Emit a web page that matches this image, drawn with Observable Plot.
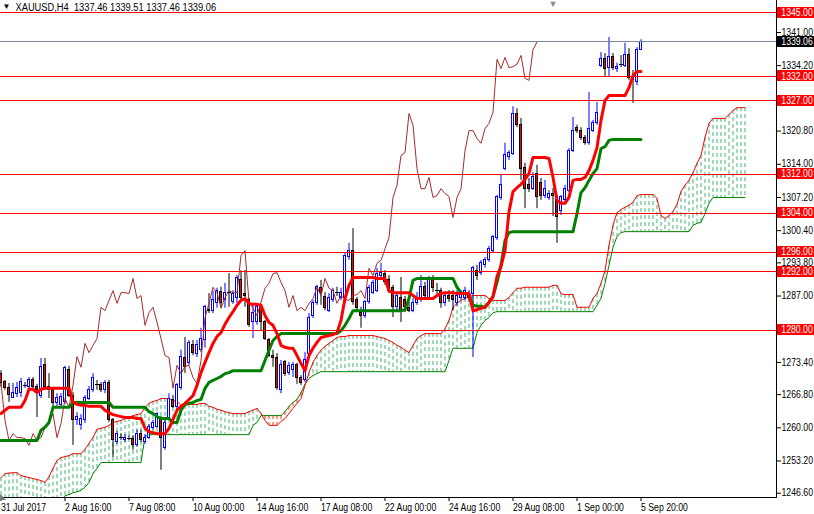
<!DOCTYPE html>
<html><head><meta charset="utf-8">
<script src="https://cdn.jsdelivr.net/npm/d3@7"></script>
<script src="https://cdn.jsdelivr.net/npm/@observablehq/plot@0.6"></script>
<style>
html,body{margin:0;padding:0;background:#fff;}
svg{display:block;}
</style></head><body><div id="chart"></div>
<script>
// ---- Data (XAUUSD H4, bars 0..160; cloud projected 26 bars ahead) ----
const opens = [1271.1,1269.3,1268.1,1266.2,1267.0,1267.2,1268.7,1268.3,1269.7,1268.3,
1266.6,1272.8,1268.3,1267.7,1265.0,1264.6,1265.2,1271.8,1266.6,1261.5,
1260.5,1261.5,1266.0,1267.7,1268.9,1268.7,1267.7,1269.1,1261.5,1257.0,
1258.0,1257.4,1257.8,1257.8,1256.4,1258.8,1257.0,1258.0,1259.9,1260.1,
1261.9,1255.8,1262.1,1265.6,1264.2,1268.1,1274.4,1273.2,1276.9,1275.2,
1275.9,1277.9,1284.2,1284.0,1285.5,1287.9,1286.1,1287.7,1285.7,1286.7,
1290.2,1287.5,1286.1,1281.6,1281.6,1284.7,1281.6,1277.9,1274.8,1274.4,
1267.7,1273.4,1271.3,1271.8,1272.8,1270.3,1269.7,1275.2,1283.0,1285.5,
1288.6,1286.9,1284.0,1286.1,1287.7,1286.7,1286.7,1294.9,1296.3,1286.1,
1283.6,1283.0,1285.7,1287.7,1288.1,1291.2,1291.6,1290.2,1288.6,1284.7,
1286.5,1286.1,1284.5,1284.0,1285.5,1286.5,1288.8,1286.7,1290.6,1288.1,
1288.1,1285.5,1287.1,1287.1,1285.5,1286.5,1286.5,1287.5,1287.5,1292.2,
1291.8,1293.3,1294.3,1296.3,1298.8,1307.0,1313.1,1315.4,1316.2,1324.4,
1322.0,1313.3,1309.7,1309.0,1312.1,1310.1,1307.6,1307.0,1308.0,1306.6,
1304.5,1306.6,1308.6,1316.8,1321.5,1320.9,1319.3,1318.3,1320.9,1322.4,
1334.2,1335.5,1333.8,1335.9,1333.6,1334.5,1334.2,1336.3,1331.6,1330.8,
1337.46];
const highs = [1271.7,1269.7,1269.1,1269.1,1269.3,1270.1,1269.3,1270.3,1270.3,1268.9,
1274.2,1274.2,1271.1,1268.3,1267.0,1267.0,1272.6,1272.6,1267.2,1263.1,
1262.7,1266.6,1268.5,1271.1,1269.7,1269.3,1269.7,1269.7,1261.9,1259.2,
1258.8,1258.6,1258.4,1258.4,1259.5,1259.5,1258.6,1260.7,1261.5,1263.1,
1262.3,1261.5,1267.0,1266.6,1269.1,1275.9,1278.5,1277.9,1277.9,1277.9,
1280.4,1285.1,1287.5,1288.1,1288.6,1288.8,1289.6,1291.6,1288.1,1291.2,
1292.2,1292.2,1286.5,1285.5,1285.1,1285.1,1282.0,1278.3,1275.9,1275.2,
1273.8,1273.8,1273.4,1273.4,1273.2,1270.7,1275.4,1283.4,1286.1,1289.2,
1290.2,1287.7,1287.5,1288.6,1288.8,1288.6,1295.7,1297.8,1300.8,1286.7,
1284.7,1286.1,1289.2,1290.2,1292.7,1293.7,1292.2,1291.2,1289.2,1287.7,
1290.8,1286.9,1285.7,1286.5,1287.7,1291.2,1289.8,1291.0,1291.2,1289.6,
1288.6,1287.7,1288.1,1288.1,1288.1,1288.1,1288.8,1288.1,1293.1,1293.3,
1294.3,1294.9,1297.2,1299.4,1307.6,1311.7,1318.3,1316.8,1325.8,1325.4,
1323.4,1314.2,1311.1,1312.3,1313.8,1311.1,1310.7,1308.6,1309.0,1307.6,
1307.6,1309.7,1317.2,1323.6,1322.0,1321.5,1319.9,1328.7,1323.0,1326.7,
1336.9,1336.7,1340.0,1336.7,1334.7,1336.3,1338.8,1337.7,1333.2,1337.9,
1339.51];
const lows = [1268.3,1267.7,1265.2,1266.0,1266.2,1266.2,1268.1,1267.7,1267.7,1262.1,
1266.0,1267.7,1266.0,1264.2,1264.2,1264.2,1264.8,1266.2,1256.4,1260.5,
1259.5,1260.9,1265.6,1267.2,1267.7,1267.2,1267.0,1261.1,1253.9,1256.6,
1257.4,1257.0,1257.4,1255.4,1256.0,1257.0,1256.6,1257.6,1259.5,1259.9,
1251.3,1255.4,1261.9,1264.0,1263.6,1267.7,1271.1,1272.8,1274.8,1274.4,
1275.4,1276.3,1283.4,1283.4,1284.5,1284.5,1284.5,1284.7,1285.3,1285.5,
1286.1,1284.7,1280.6,1278.3,1281.0,1279.9,1277.9,1274.4,1272.4,1267.7,
1267.0,1270.5,1270.7,1270.3,1268.9,1268.7,1269.3,1274.4,1282.4,1285.1,
1285.1,1284.0,1283.6,1285.7,1286.9,1286.1,1286.3,1294.3,1285.1,1283.6,
1280.4,1282.4,1285.3,1287.3,1287.7,1290.8,1289.2,1287.5,1282.6,1284.0,
1281.6,1283.6,1283.6,1283.6,1285.1,1285.7,1286.5,1286.3,1287.7,1286.9,
1284.5,1284.9,1285.7,1284.0,1284.9,1286.1,1286.1,1285.7,1274.4,1290.2,
1291.2,1292.7,1293.9,1295.9,1298.4,1306.6,1312.7,1314.8,1315.8,1321.5,
1310.7,1304.9,1308.2,1308.6,1304.9,1306.6,1307.0,1306.6,1303.3,1297.8,
1303.5,1306.2,1308.2,1316.4,1320.3,1318.9,1317.9,1317.9,1320.5,1322.0,
1333.8,1331.8,1331.8,1333.2,1332.8,1333.8,1333.8,1331.2,1326.5,1330.1,
1337.46];
const closes = [1269.1,1268.1,1266.8,1267.2,1268.1,1269.3,1268.7,1269.7,1268.3,1267.7,
1272.4,1268.3,1267.7,1265.0,1266.2,1266.4,1272.2,1266.6,1261.7,1262.3,
1261.9,1266.2,1267.7,1270.3,1268.9,1267.7,1269.1,1261.5,1257.4,1258.8,
1258.0,1258.0,1257.8,1256.4,1258.8,1257.4,1258.0,1260.1,1260.9,1262.9,
1258.0,1260.9,1266.0,1264.2,1268.7,1274.6,1272.4,1277.3,1275.4,1276.9,
1278.3,1284.7,1284.0,1286.1,1288.1,1285.5,1287.7,1287.7,1287.5,1290.6,
1286.5,1287.1,1281.0,1283.6,1284.7,1281.6,1278.3,1274.8,1274.4,1268.1,
1272.8,1271.1,1272.6,1272.8,1270.3,1269.1,1273.8,1282.6,1285.5,1288.8,
1287.7,1284.5,1286.7,1288.1,1287.7,1287.7,1295.3,1296.3,1285.7,1284.5,
1283.0,1285.7,1288.6,1289.6,1291.6,1291.8,1289.8,1288.1,1284.7,1287.1,
1284.0,1284.7,1284.0,1285.5,1286.5,1288.8,1287.1,1290.6,1288.6,1288.1,
1285.5,1287.1,1286.3,1286.1,1287.1,1287.3,1288.1,1286.5,1292.7,1291.2,
1293.7,1294.3,1296.7,1299.0,1307.2,1309.7,1315.8,1316.4,1324.4,1322.0,
1313.1,1309.0,1309.0,1311.3,1307.2,1307.6,1309.0,1308.0,1307.4,1303.1,
1307.2,1309.0,1316.8,1320.9,1320.9,1319.3,1318.3,1321.3,1322.4,1324.6,
1335.5,1333.6,1335.9,1333.8,1334.0,1334.5,1336.3,1331.6,1331.2,1337.5,
1339.06];
const tenkan = [1262.9,1263.6,1264.2,1264.2,1264.2,1264.2,1265.6,1267.9,1267.9,1267.2,
1267.9,1268.1,1268.1,1268.1,1268.1,1268.1,1268.1,1268.1,1265.2,1264.8,
1264.6,1264.6,1264.4,1264.4,1264.4,1264.4,1263.6,1263.1,1262.7,1262.5,
1262.3,1262.1,1262.1,1262.1,1261.9,1261.9,1259.9,1259.2,1259.0,1258.8,
1258.8,1258.8,1259.9,1261.7,1263.6,1264.4,1265.0,1265.8,1266.6,1268.7,
1271.3,1273.4,1275.4,1277.3,1278.7,1279.5,1281.2,1282.6,1283.8,1285.1,
1286.1,1286.5,1285.5,1285.3,1285.3,1285.1,1283.0,1281.6,1281.0,1279.3,
1276.9,1276.5,1276.3,1276.3,1274.8,1273.2,1271.7,1274.8,1276.3,1277.5,
1278.5,1278.7,1278.9,1279.1,1279.5,1282.0,1286.5,1289.2,1290.8,1290.8,
1290.8,1290.8,1290.8,1290.8,1290.6,1290.6,1290.6,1288.1,1287.7,1287.7,
1287.7,1287.7,1287.7,1287.1,1286.5,1286.5,1286.5,1286.5,1286.5,1287.1,
1287.5,1287.7,1287.7,1287.7,1287.5,1287.5,1287.5,1287.5,1284.0,1284.2,
1284.5,1284.7,1285.7,1286.9,1291.0,1293.1,1296.3,1304.3,1308.4,1309.2,
1309.9,1310.9,1312.1,1315.4,1315.4,1315.4,1315.4,1315.2,1311.3,1306.6,
1306.0,1306.0,1307.2,1310.7,1310.9,1310.9,1311.3,1312.7,1314.8,1317.4,
1323.0,1327.1,1328.1,1328.1,1328.1,1328.1,1328.1,1329.7,1332.2,1333.0,
1333.0];
const kijun = [1257.4,1257.4,1257.4,1257.4,1257.4,1257.4,1257.4,1257.4,1257.4,1257.4,
1259.5,1260.1,1261.1,1264.2,1264.2,1264.2,1264.2,1264.2,1265.2,1265.2,
1265.2,1265.2,1265.2,1265.2,1265.2,1265.2,1265.2,1265.2,1264.2,1264.2,
1264.2,1264.2,1264.2,1264.2,1264.2,1264.2,1264.2,1263.3,1262.9,1262.3,
1261.9,1261.9,1261.9,1261.1,1261.1,1263.6,1264.8,1265.0,1265.2,1265.6,
1265.8,1268.1,1269.3,1269.7,1270.1,1270.5,1271.1,1271.3,1271.7,1271.7,
1271.7,1271.7,1271.7,1271.7,1271.7,1271.7,1273.8,1275.9,1277.9,1278.7,
1279.3,1279.3,1279.3,1279.3,1279.3,1279.3,1279.3,1279.3,1279.3,1279.3,
1279.3,1279.3,1279.3,1279.3,1279.3,1279.9,1281.0,1282.4,1284.0,1284.0,
1284.0,1284.0,1284.0,1284.0,1284.0,1284.0,1284.0,1284.0,1284.0,1284.0,
1284.0,1284.2,1286.5,1290.2,1290.6,1290.6,1290.6,1290.6,1290.6,1290.6,
1290.6,1290.6,1290.6,1290.6,1288.8,1287.7,1287.5,1287.3,1285.1,1284.9,
1284.9,1284.7,1285.7,1286.9,1289.8,1293.3,1298.4,1300.0,1300.2,1300.2,
1300.2,1300.2,1300.2,1300.2,1300.2,1300.2,1300.2,1300.2,1300.2,1300.2,
1300.2,1300.2,1300.2,1300.2,1303.9,1308.2,1309.2,1310.7,1312.1,1313.1,
1317.2,1317.6,1318.9,1319.1,1319.1,1319.1,1319.1,1319.1,1319.1,1319.1,
1319.1];
const spanA = [1249.8,1250.6,1250.7,1250.8,1250.8,1250.2,1250.0,1249.8,1249.6,1249.4,
1249.2,1248.8,1250.0,1251.7,1253.3,1253.9,1254.1,1254.3,1254.7,1254.7,
1254.7,1255.6,1256.8,1258.0,1259.7,1259.9,1260.1,1260.5,1261.1,1261.3,
1261.5,1261.9,1262.1,1262.5,1262.7,1262.9,1264.2,1265.0,1265.4,1265.6,
1266.0,1266.0,1266.0,1265.6,1265.4,1264.6,1264.6,1264.8,1264.8,1264.8,
1265.0,1265.0,1264.4,1264.2,1263.8,1263.6,1263.3,1263.1,1262.9,1262.9,
1262.9,1262.9,1263.3,1263.6,1264.0,1262.9,1261.5,1260.5,1260.5,1260.5,
1261.3,1261.9,1262.9,1264.0,1265.0,1266.0,1268.7,1271.3,1273.4,1274.8,
1275.9,1276.7,1277.3,1277.9,1278.5,1278.7,1278.7,1278.9,1278.9,1278.9,
1278.9,1278.9,1278.9,1278.9,1278.7,1278.5,1278.3,1277.9,1277.5,1276.9,
1276.5,1275.9,1275.4,1276.9,1278.3,1278.9,1279.3,1279.3,1279.3,1279.3,
1279.3,1280.3,1282.0,1284.7,1285.5,1286.1,1286.5,1286.9,1287.1,1287.1,
1287.1,1287.1,1286.5,1286.1,1286.1,1286.1,1286.1,1286.7,1287.7,1288.6,
1288.6,1288.8,1288.8,1288.8,1288.8,1288.8,1288.8,1288.8,1289.2,1289.2,
1287.5,1287.3,1287.3,1287.3,1284.7,1284.7,1284.7,1284.7,1286.5,1287.5,
1289.6,1292.2,1297.4,1301.5,1304.1,1304.7,1305.2,1305.6,1306.2,1307.6,
1307.8,1307.8,1307.8,1307.8,1307.0,1303.5,1302.9,1303.5,1304.3,1305.8,
1308.4,1309.7,1310.7,1312.3,1314.2,1315.8,1319.5,1322.4,1323.4,1323.4,
1323.4,1323.4,1324.2,1325.0,1325.6,1325.6,1325.6];
const spanB = [1243.1,1243.1,1243.1,1243.1,1243.1,1243.1,1243.1,1243.1,1243.1,1243.1,
1243.1,1243.1,1243.1,1243.1,1243.1,1243.1,1246.1,1246.3,1246.7,1246.9,
1247.2,1247.8,1248.8,1250.6,1251.7,1252.9,1252.9,1252.9,1252.9,1252.9,
1252.9,1252.9,1252.9,1252.9,1252.9,1252.9,1258.2,1258.6,1258.6,1258.6,
1258.6,1258.6,1258.6,1258.6,1258.6,1258.6,1258.6,1258.6,1258.6,1258.6,
1258.6,1258.6,1258.6,1258.6,1258.6,1258.6,1258.6,1258.6,1258.6,1258.6,
1258.6,1258.6,1258.6,1260.5,1261.1,1262.5,1262.5,1262.5,1262.5,1262.5,
1262.5,1263.3,1264.4,1265.2,1265.8,1267.2,1268.9,1270.1,1270.7,1271.1,
1271.5,1271.5,1271.5,1271.5,1271.5,1271.5,1271.5,1271.5,1271.5,1271.5,
1271.5,1271.5,1271.5,1271.5,1271.5,1271.5,1271.5,1271.5,1271.5,1271.5,
1271.5,1271.5,1271.5,1271.5,1271.5,1271.5,1271.5,1271.5,1271.5,1271.5,
1271.5,1271.5,1273.8,1276.3,1276.3,1276.3,1276.3,1276.3,1276.3,1279.5,
1281.0,1282.0,1282.6,1283.6,1283.8,1283.8,1283.8,1283.8,1283.8,1283.8,
1283.8,1283.8,1283.8,1283.8,1283.8,1283.8,1283.8,1283.8,1283.8,1283.8,
1283.8,1283.8,1283.8,1283.8,1283.8,1283.8,1283.8,1283.8,1283.8,1285.1,
1286.5,1289.6,1293.3,1297.0,1299.2,1300.0,1300.2,1300.2,1300.2,1300.2,
1300.2,1300.2,1300.2,1300.2,1300.2,1300.2,1300.2,1300.2,1300.2,1300.2,
1300.2,1300.2,1300.2,1301.5,1301.9,1302.1,1303.9,1306.0,1307.2,1307.2,
1307.2,1307.2,1307.2,1307.2,1307.2,1307.2,1307.2];
const chikouShift = 26;
const levels = [1345, 1332, 1327, 1312, 1304, 1296, 1292, 1280];
const bidPrice = 1339.06;
const yTickValues = [1246.6, 1253.2, 1260.0, 1266.8, 1273.4, 1287.0, 1293.8, 1300.4, 1307.2, 1314.0, 1320.8, 1334.2, 1341.0];
const xTickBars = [0, 16, 32, 48, 64, 80, 96, 112, 128, 144, 160];
const xTickLabels = ["31 Jul 2017", "2 Aug 16:00", "7 Aug 08:00", "10 Aug 00:00", "14 Aug 16:00", "17 Aug 08:00", "22 Aug 00:00", "24 Aug 16:00", "29 Aug 08:00", "1 Sep 00:00", "5 Sep 20:00"];
const titleText = "XAUUSD,H4  1337.46 1339.51 1337.46 1339.06";
const shiftMarkerBar = 138;

// ---- Build ----
const FONT = "'Liberation Sans', Arial, sans-serif";
const xDomain = [-0.125, 193.875];
const yDomain = [1245.72, 1347.56];
const bars = d3.range(opens.length).map(i => ({i, o: opens[i], h: highs[i], l: lows[i], c: closes[i]}));
const bull = bars.filter(d => d.c > d.o);
const bear = bars.filter(d => d.c < d.o);
const doji = bars.filter(d => d.c === d.o);
const cloud = d3.range(spanA.length).map(i => ({i, a: spanA[i], b: spanB[i]}));
const chikou = closes.slice(chikouShift).map((c, i) => ({i, c}));
const tk = tenkan.map((v, i) => ({i, v}));
const kj = kijun.map((v, i) => ({i, v}));
const labelMap = new Map(xTickBars.map((b, k) => [b, xTickLabels[k]]));
const boxH = 11 / 4.88 / 2;
const bx1 = () => xDomain[1] + 0.25, bx2 = () => xDomain[1] + 9.6, tx = () => xDomain[1] + 1.2;

const chart = Plot.plot({
  width: 814, height: 514,
  marginLeft: 0, marginRight: 38, marginTop: 0, marginBottom: 17,
  x: {domain: xDomain, axis: null},
  y: {domain: yDomain, axis: null},
  style: {fontFamily: FONT, fontSize: "10px", background: "#fff", overflow: "visible", color: "#000"},
  marks: [
    // Kumo hatch
    Plot.ruleX(cloud, {x: "i", y1: d => Math.max(d.a, d.b), y2: d => Math.min(d.a, d.b),
      stroke: d => d.a >= d.b ? "#3cb371" : "#ff3300", strokeDasharray: "4,3", clip: true}),
    Plot.line(cloud, {x: "i", y: "b", stroke: "#008000", strokeWidth: 1, clip: true}),
    Plot.line(cloud, {x: "i", y: "a", stroke: "#ff0000", strokeWidth: 1, clip: true}),
    // candles
    Plot.ruleX(bull, {x: "i", y1: "l", y2: "h", stroke: "#0000ff"}),
    Plot.ruleX(bear.concat(doji), {x: "i", y1: "l", y2: "h", stroke: "#000000"}),
    Plot.rect(bull, {x1: d => d.i - 0.25, x2: d => d.i + 0.25, y1: "o", y2: "c", fill: "#ffffff", stroke: "#0000ff", shapeRendering: "crispEdges"}),
    Plot.rect(bear, {x1: d => d.i - 0.25, x2: d => d.i + 0.25, y1: "o", y2: "c", fill: "#ff0000", stroke: "#000000", shapeRendering: "crispEdges"}),
    Plot.ruleY(doji, {x1: d => d.i - 0.5, x2: d => d.i + 0.5, y: "o", stroke: "#000000", shapeRendering: "crispEdges"}),
    // Chikou, Kijun, Tenkan
    Plot.line(chikou, {x: "i", y: "c", stroke: "#a52a2a", strokeWidth: 1}),
    Plot.line(kj, {x: "i", y: "v", stroke: "#008000", strokeWidth: 3}),
    Plot.line(tk, {x: "i", y: "v", stroke: "#ff0000", strokeWidth: 3}),
    // horizontal levels + bid line
    Plot.ruleY(levels, {stroke: "#ff0000", shapeRendering: "crispEdges"}),
    Plot.ruleY([bidPrice], {stroke: "#778899", shapeRendering: "crispEdges"}),
    // axes
    Plot.frame({anchor: "bottom", stroke: "#000"}),
    Plot.frame({anchor: "right", stroke: "#000"}),
    Plot.axisY({anchor: "right", ticks: yTickValues, tickFormat: d => d.toFixed(2), tickSize: 4, tickPadding: 1, label: null, fill: "#000"}),
    Plot.axisX({anchor: "bottom", ticks: xTickBars, tickFormat: d => labelMap.get(d), tickSize: 4, tickPadding: 2, textAnchor: "start", dx: 0, label: null, fill: "#000"}),
    // level label boxes
    Plot.rect(levels, {x1: bx1, x2: bx2, y1: d => d - boxH, y2: d => d + boxH, fill: "#ff0000", shapeRendering: "crispEdges"}),
    Plot.text(levels, {x: tx, y: d => d, text: d => d.toFixed(2), fill: "#ffffff", textAnchor: "start"}),
    Plot.rect([bidPrice], {x1: bx1, x2: bx2, y1: d => d - boxH, y2: d => d + boxH, fill: "#000000", shapeRendering: "crispEdges"}),
    Plot.text([bidPrice], {x: tx, y: d => d, text: d => d.toFixed(2), fill: "#ffffff", textAnchor: "start"}),
    // title + markers
    Plot.text(["\u25BC"], {frameAnchor: "top-left", dx: 2, dy: 3, fontSize: 8, lineAnchor: "top", textAnchor: "start", fill: "#000"}),
    Plot.text([titleText], {frameAnchor: "top-left", dx: 15, dy: 3, lineAnchor: "top", textAnchor: "start", fill: "#000"}),
    Plot.text([shiftMarkerBar], {x: d => d, frameAnchor: "top", dy: 0, text: () => "\u25BC", fontSize: 9, lineAnchor: "top", fill: "#8a8a8a"}),
    Plot.text(["\u25E3"], {frameAnchor: "bottom-left", dx: -1, dy: 1, fontSize: 8, lineAnchor: "bottom", textAnchor: "start", fill: "#7a7a7a"})
  ]
});
document.getElementById("chart").appendChild(chart);
// condense text horizontally to match the narrow terminal font
chart.querySelectorAll("text").forEach(t => {
  const s = t.textContent;
  if (!s || s.length < 2) return;
  const len = t.getComputedTextLength();
  const f = s === titleText ? 0.93 : 0.87;
  t.setAttribute("textLength", (len * f).toFixed(1));
  t.setAttribute("lengthAdjust", "spacingAndGlyphs");
});
</script>
</body></html>
